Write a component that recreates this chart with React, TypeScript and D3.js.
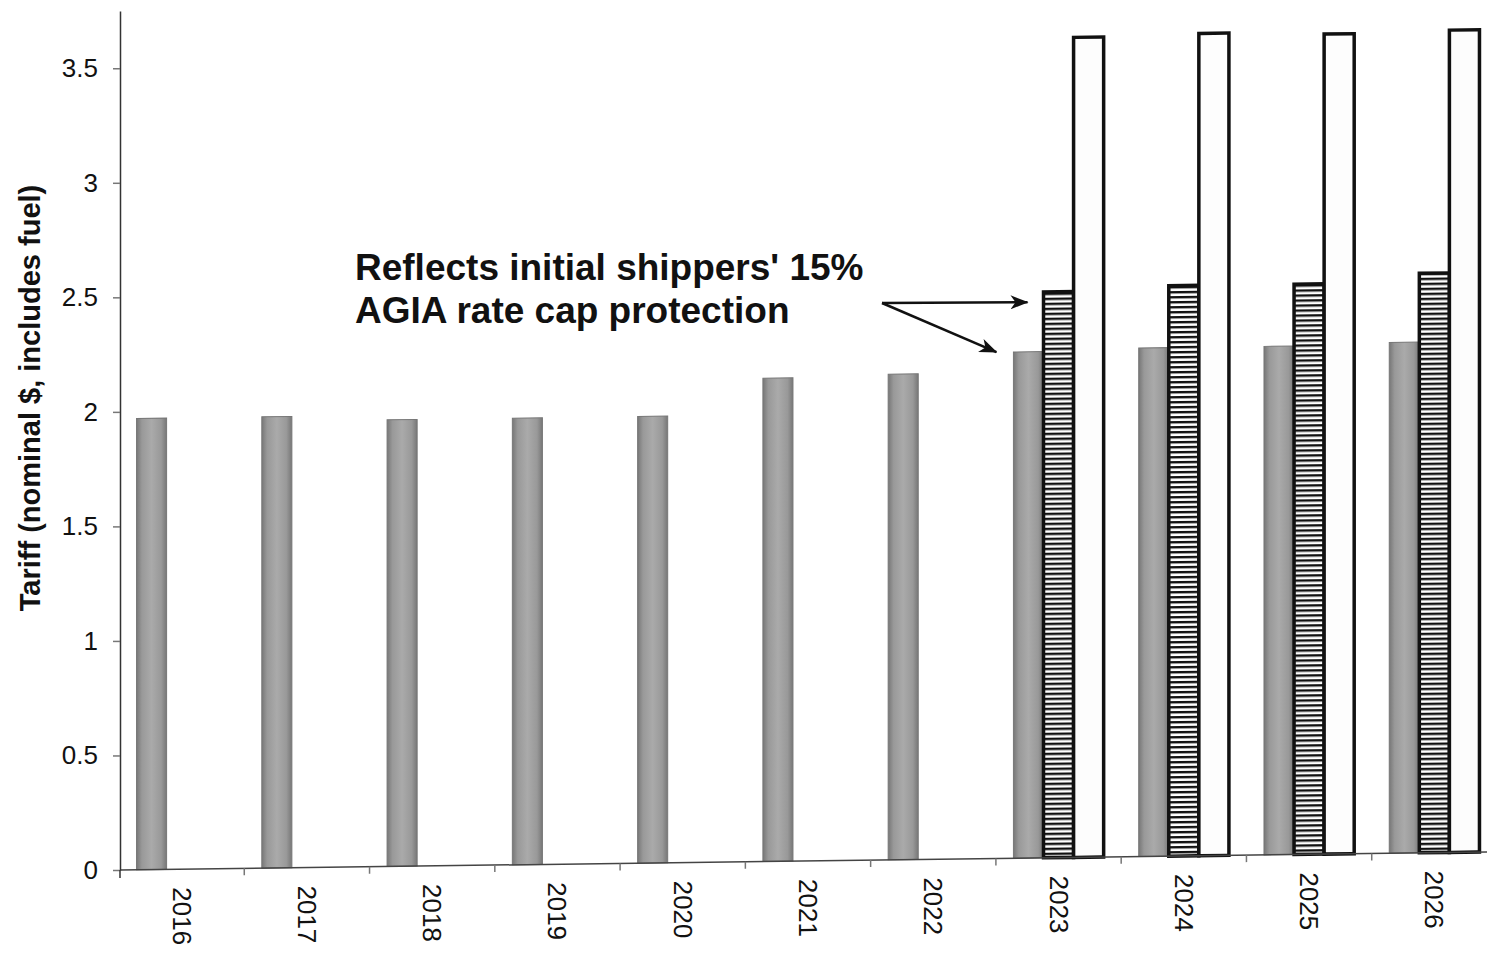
import React, { useEffect, useRef } from 'react';
import * as d3 from 'd3';

const years = ['2016', '2017', '2018', '2019', '2020', '2021', '2022', '2023', '2024', '2025', '2026'];
const baseTariff = [1.97, 1.97, 1.95, 1.95, 1.95, 2.11, 2.12, 2.21, 2.22, 2.22, 2.23];
const cappedTariff = [null, null, null, null, null, null, null, 2.47, 2.49, 2.49, 2.53];
const uncappedTariff = [null, null, null, null, null, null, null, 3.58, 3.59, 3.58, 3.59];
const seriesKeys = ['base', 'capped', 'uncapped'];
const yTicks = [0, 0.5, 1, 1.5, 2, 2.5, 3, 3.5];
const noteLines = ["Reflects initial shippers' 15%", 'AGIA rate cap protection'];

const W = 1487;
const H = 957;
const axisX = 120;
const baseY = 870;
const topY = 11;
const tilt = 0.0132; // the scanned page drops a little to the right
const font = '"Liberation Sans", Arial, Helvetica, sans-serif';

// y position after the page tilt
const sk = (px: number, py: number) => py - tilt * (px - axisX);

export default function App() {
  const ref = useRef<SVGSVGElement>(null);

  useEffect(() => {
    const svg = d3.select(ref.current);
    svg.selectAll('*').remove();

    const x = d3.scaleBand().domain(years).range([119, 1497]);
    const xs = d3.scaleBand().domain(seriesKeys).range([0, x.bandwidth()]).paddingOuter(0.583);
    const y = d3.scaleLinear().domain([0, 3.75]).range([baseY, topY]);

    const defs = svg.append('defs');
    const grad = defs.append('linearGradient').attr('id', 'grayBar').attr('x1', 0).attr('x2', 1).attr('y1', 0).attr('y2', 0);
    grad.append('stop').attr('offset', '0%').attr('stop-color', '#777');
    grad.append('stop').attr('offset', '18%').attr('stop-color', '#999');
    grad.append('stop').attr('offset', '50%').attr('stop-color', '#aaa');
    grad.append('stop').attr('offset', '82%').attr('stop-color', '#999');
    grad.append('stop').attr('offset', '100%').attr('stop-color', '#777');

    const pat = defs.append('pattern').attr('id', 'stripes').attr('patternUnits', 'userSpaceOnUse')
      .attr('width', 10).attr('height', 5);
    pat.append('rect').attr('width', 10).attr('height', 5).attr('fill', '#fff');
    pat.append('rect').attr('width', 10).attr('height', 2.4).attr('fill', '#111');

    defs.append('marker').attr('id', 'head').attr('markerUnits', 'userSpaceOnUse')
      .attr('viewBox', '0 0 18 14').attr('refX', 17).attr('refY', 7)
      .attr('markerWidth', 18).attr('markerHeight', 14).attr('orient', 'auto')
      .append('path').attr('d', 'M0,0 L18,7 L0,14 L5,7 Z').attr('fill', '#111');

    const rows = years.map((yr, i) => ({
      year: yr,
      vals: [
        { key: 'base', v: baseTariff[i] },
        { key: 'capped', v: cappedTariff[i] },
        { key: 'uncapped', v: uncappedTariff[i] },
      ].filter(d => d.v != null) as { key: string; v: number }[],
    }));

    const plot = svg.append('g').attr('transform', `matrix(1, ${-tilt}, 0, 1, 0, ${tilt * axisX})`);

    plot.selectAll('g.year')
      .data(rows)
      .join('g')
      .attr('class', 'year')
      .attr('transform', d => `translate(${x(d.year)},0)`)
      .selectAll('rect')
      .data(d => d.vals)
      .join('rect')
      .attr('x', d => xs(d.key)!)
      .attr('y', d => y(d.v))
      .attr('width', xs.bandwidth())
      .attr('height', d => baseY - y(d.v))
      .attr('fill', d => d.key === 'base' ? 'url(#grayBar)' : d.key === 'capped' ? 'url(#stripes)' : '#fdfdfd')
      .attr('stroke', d => d.key === 'base' ? '#777' : '#111')
      .attr('stroke-width', d => d.key === 'base' ? 1 : 3.5);

    // x axis
    plot.append('line').attr('x1', axisX).attr('x2', W).attr('y1', baseY).attr('y2', baseY)
      .attr('stroke', '#444').attr('stroke-width', 1.5);
    plot.selectAll('line.xtick')
      .data(years.slice(1))
      .join('line')
      .attr('class', 'xtick')
      .attr('x1', d => x(d)!).attr('x2', d => x(d)!)
      .attr('y1', baseY).attr('y2', baseY + 7)
      .attr('stroke', '#777').attr('stroke-width', 1.5);
    plot.selectAll('text.xlab')
      .data(years)
      .join('text')
      .attr('class', 'xlab')
      .attr('transform', d => `translate(${x(d)! + x.bandwidth() / 2},888) rotate(90)`)
      .attr('dominant-baseline', 'central')
      .attr('font-family', font)
      .attr('font-size', 26)
      .attr('fill', '#111')
      .text(d => d);

    // y axis
    const yAxis = svg.append('g').attr('transform', `translate(${axisX},0)`)
      .call(d3.axisLeft(y).tickValues(yTicks).tickSize(7).tickSizeOuter(0).tickPadding(15).tickFormat(d => String(d)));
    yAxis.select('.domain').attr('stroke', '#333').attr('stroke-width', 1.5);
    yAxis.selectAll('.tick line').attr('stroke', '#777').attr('stroke-width', 1.5);
    yAxis.selectAll('.tick text').attr('font-family', font).attr('font-size', 26).attr('fill', '#111');
    yAxis.append('line').attr('x1', 0).attr('x2', 0).attr('y1', baseY).attr('y2', baseY + 8)
      .attr('stroke', '#333').attr('stroke-width', 1.5);

    svg.append('text')
      .attr('transform', 'translate(40,398) rotate(-90)')
      .attr('text-anchor', 'middle')
      .attr('font-family', font)
      .attr('font-weight', 'bold')
      .attr('font-size', 29)
      .attr('fill', '#111')
      .text('Tariff (nominal $, includes fuel)');

    // annotation
    svg.selectAll('text.note')
      .data(noteLines)
      .join('text')
      .attr('class', 'note')
      .attr('x', 355)
      .attr('y', (_, i) => 280 + i * 43)
      .attr('font-family', font)
      .attr('font-weight', 'bold')
      .attr('font-size', 37)
      .attr('fill', '#111')
      .text(d => d);

    const i23 = years.indexOf('2023');
    const tx1 = x('2023')! + xs('capped')! - 16;
    const tx2 = x('2023')! + xs('base')! - 17;
    const tips = [
      [tx1, sk(tx1, y(cappedTariff[i23]!)) + 10],
      [tx2, sk(tx2, y(baseTariff[i23]))],
    ];
    svg.selectAll('line.arrow')
      .data(tips)
      .join('line')
      .attr('class', 'arrow')
      .attr('x1', 882).attr('y1', 303)
      .attr('x2', d => d[0]).attr('y2', d => d[1])
      .attr('stroke', '#111').attr('stroke-width', 2.5)
      .attr('marker-end', 'url(#head)');
  }, []);

  return (
    <svg ref={ref} width={W} height={H} viewBox={`0 0 ${W} ${H}`}
      style={{ position: 'absolute', left: 0, top: 0, background: '#fff' }} />
  );
}
